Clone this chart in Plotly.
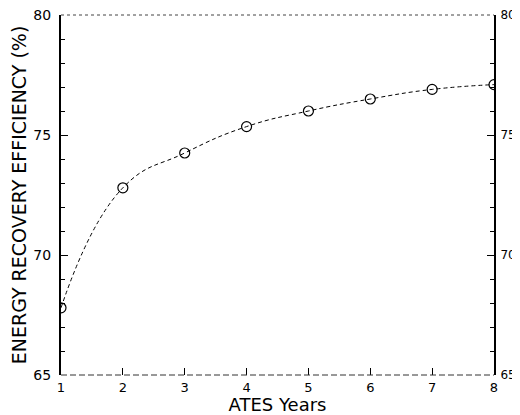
import plotly.graph_objects as go

years = [1, 2, 3, 4, 5, 6, 7, 8]
efficiency = [67.8, 72.8, 74.25, 75.35, 76.0, 76.5, 76.9, 77.1]
y_ticks = [65, 70, 75, 80]
x_ticks = [1, 2, 3, 4, 5, 6, 7, 8]

font = "DejaVu Sans"
fig = go.Figure()
fig.add_trace(go.Scatter(
    x=years, y=efficiency, mode="lines+markers",
    line=dict(color="black", width=1, shape="spline", smoothing=1.3, dash="4px,3px"),
    marker=dict(symbol="circle-open", size=10, color="black", line=dict(width=1.2)),
    showlegend=False, hoverinfo="skip"))
fig.add_trace(go.Scatter(
    x=years, y=efficiency, mode="markers", yaxis="y2",
    marker=dict(opacity=0), showlegend=False, hoverinfo="skip"))

fig.update_layout(
    width=520, height=407,
    margin=dict(l=53, r=34, t=7, b=40, autoexpand=False),
    paper_bgcolor="white", plot_bgcolor="white",
    font=dict(family=font, color="black", size=13),
    xaxis=dict(range=[1, 8], tickvals=x_ticks, ticks="inside", ticklen=7,
               tickcolor="black", showgrid=False, zeroline=False, showline=False,
               automargin=False, ticklabelstandoff=3, ticklabeloverflow="allow",
               title=dict(text="ATES Years", font=dict(size=18), standoff=0),
               tickfont=dict(size=13)),
    yaxis=dict(range=[65, 80], tickvals=y_ticks, ticks="inside", ticklen=7,
               tickcolor="black", showgrid=False, zeroline=False, automargin=False,
               showline=True, linecolor="black", linewidth=2,
               ticklabelstandoff=5, ticklabeloverflow="allow",
               minor=dict(dtick=1, ticks="inside", ticklen=4, tickcolor="black"),
               title=dict(text="ENERGY RECOVERY EFFICIENCY (%)", font=dict(size=19), standoff=6),
               tickfont=dict(size=14)),
    yaxis2=dict(range=[65, 80], tickvals=y_ticks, ticks="inside", ticklen=7,
                tickcolor="black", overlaying="y", side="right", showgrid=False,
                zeroline=False, showline=True, linecolor="black", linewidth=2,
                automargin=False, ticklabelstandoff=2, ticklabeloverflow="allow",
                minor=dict(dtick=1, ticks="inside", ticklen=4, tickcolor="black"),
                tickfont=dict(size=12)),
)
fig.add_shape(type="line", xref="paper", yref="paper", x0=0, x1=1, y0=1, y1=1,
              line=dict(color="#444", width=1, dash="dot"))
fig.add_shape(type="line", xref="paper", yref="paper", x0=0, x1=1, y0=0, y1=0,
              line=dict(color="#333", width=1, dash="6px,3px"))
fig.write_html("out.html")
